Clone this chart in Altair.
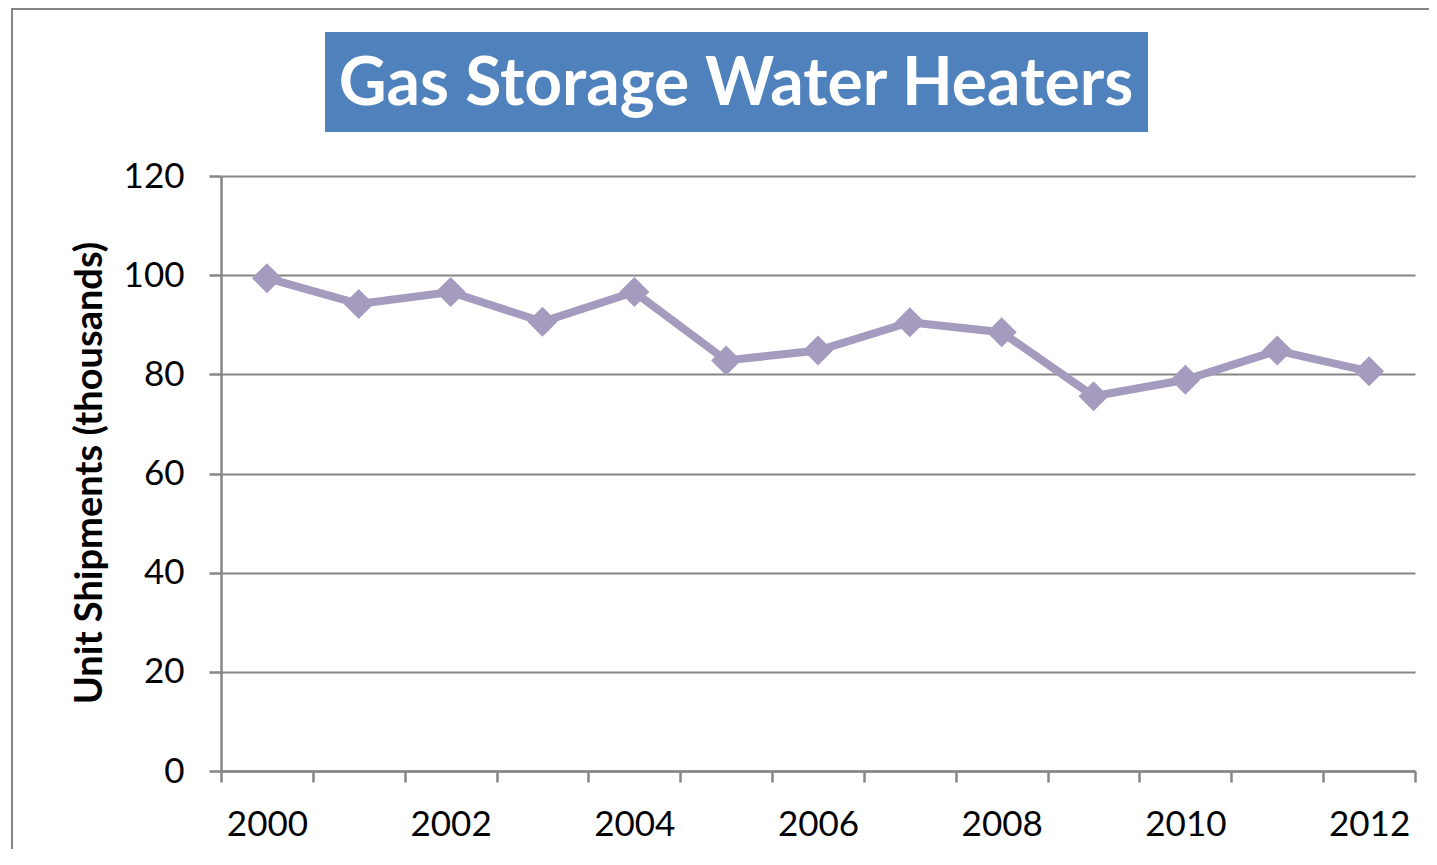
import altair as alt
import pandas as pd

title_text = ["Gas Storage Water Heaters"]
years = [2000, 2001, 2002, 2003, 2004, 2005, 2006, 2007, 2008, 2009, 2010, 2011, 2012]
shipments = [99.4, 94.2, 96.6, 90.6, 96.6, 82.8, 84.8, 90.5, 88.5, 75.6, 78.9, 84.8, 80.6]
tick_positions = [y - 0.5 for y in years] + [years[-1] + 0.5]
y_ticks = [0, 20, 40, 60, 80, 100, 120]

W, H = 1194, 595
BAND = W / len(years)
FONT = "Lato"
LINE_COLOR = "#A59BBE"
GRAY = "#868686"

df = pd.DataFrame({"year": years, "value": shipments})
one = pd.DataFrame({"t": title_text})

border = alt.Chart(one).mark_rect(fill="transparent", stroke=GRAY, strokeWidth=2).encode(
    x=alt.value(-209), x2=alt.value(W + 60), y=alt.value(-167), y2=alt.value(H + 120)
)
title_box = alt.Chart(one).mark_rect(fill="#4F81BD").encode(
    x=alt.value(104), x2=alt.value(927), y=alt.value(-144), y2=alt.value(-44)
)
title = alt.Chart(one).mark_text(
    font=FONT, fontSize=66, fontWeight="bold", color="white", align="center", baseline="middle"
).encode(text="t:N", x=alt.value(515), y=alt.value(-91))

label_expr = (
    "((datum.value + 0.5) % 2 == 0 && datum.value < " + str(years[-1])
    + ") ? '' + (datum.value + 0.5) : ''"
)

x_enc = alt.X(
    "year:Q",
    scale=alt.Scale(domain=[years[0] - 0.5, years[-1] + 0.5], nice=False, zero=False),
    axis=alt.Axis(
        values=tick_positions,
        title=None,
        grid=False,
        tickSize=11,
        tickWidth=2.5,
        tickColor=GRAY,
        domainColor=GRAY,
        domainWidth=2.5,
        labelFlush=False,
        labelOverlap=False,
        labelOffset=BAND / 2,
        labelPadding=25,
        labelExpr=label_expr,
    ),
)
y_enc = alt.Y(
    "value:Q",
    scale=alt.Scale(domain=[0, 120], nice=False),
    axis=alt.Axis(
        values=y_ticks,
        title="Unit Shipments (thousands)",
        titleFont=FONT,
        titleFontSize=38,
        titleFontWeight="bold",
        titleColor="black",
        titleAngle=-90,
        titleAlign="center",
        titleBaseline="middle",
        titleX=-131,
        titleY=H / 2 - 1,
        grid=True,
        gridColor=GRAY,
        gridWidth=2,
        tickSize=12,
        tickWidth=2.5,
        tickColor=GRAY,
        domainColor=GRAY,
        domainWidth=2.5,
        labelPadding=25,
    ),
)

line = alt.Chart(df).mark_line(color=LINE_COLOR, strokeWidth=8).encode(x=x_enc, y=y_enc)
points = alt.Chart(df).mark_point(
    shape="diamond", filled=True, color=LINE_COLOR, size=900, opacity=1
).encode(x="year:Q", y="value:Q")

chart = (
    alt.layer(border, title_box, title, line, points)
    .properties(
        width=W,
        height=H,
        autosize=alt.AutoSizeParams(type="none"),
        padding={"left": 213, "top": 168, "right": 14, "bottom": 78},
        background="white",
    )
    .configure_view(stroke=None)
    .configure_axis(labelFont=FONT, labelFontSize=35, labelColor="black")
)

chart.save("out.html", embed_options={"renderer": "svg", "actions": False})
